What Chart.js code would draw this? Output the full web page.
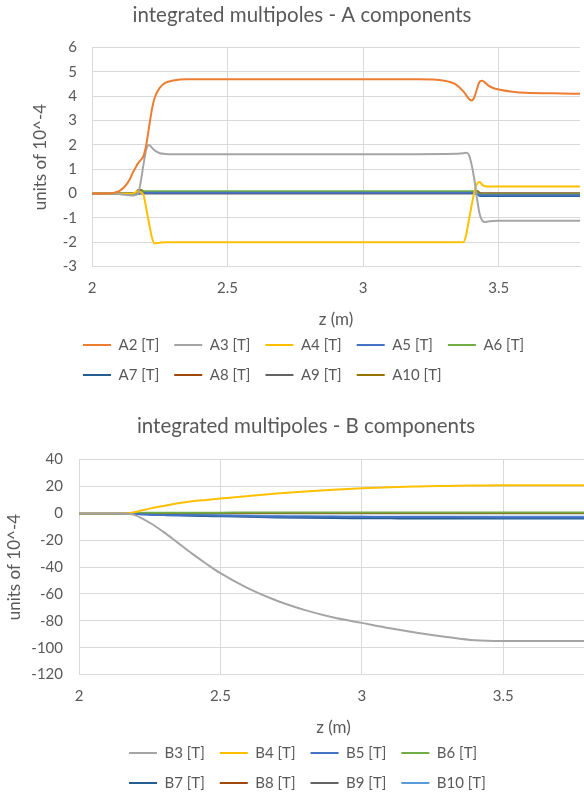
<!DOCTYPE html>
<html>
<head>
<meta charset="utf-8">
<script src="https://cdn.jsdelivr.net/npm/chart.js@4.4.1/dist/chart.umd.min.js"></script>
<style>
  html, body { margin: 0; padding: 0; background: #fff; overflow: hidden; width: 584px; height: 798px; }
  canvas { position: absolute; left: 0; }
  #chartA { top: 0; }
  #chartB { top: 395px; }
</style>
</head>
<body>
<canvas id="chartA" width="584" height="400"></canvas>
<canvas id="chartB" width="588" height="413"></canvas>
<script>
// z positions (m) for the A components
var zA = [2.0, 2.05, 2.08, 2.1, 2.12, 2.14, 2.15, 2.16, 2.17, 2.18,
          2.19, 2.2, 2.21, 2.22, 2.23, 2.25, 2.27, 2.3, 2.35, 2.4,
          2.6, 2.8, 3.0, 3.2, 3.3, 3.34, 3.37, 3.38, 3.39, 3.4,
          3.41, 3.42, 3.43, 3.44, 3.45, 3.46, 3.48, 3.5, 3.55, 3.6,
          3.7, 3.8];

var a2 = [0, 0, 0.03, 0.1, 0.28, 0.6, 0.85, 1.05, 1.25, 1.38,
          1.55, 2.0, 2.7, 3.4, 3.9, 4.35, 4.55, 4.65, 4.7, 4.7,
          4.7, 4.7, 4.7, 4.7, 4.64, 4.5, 4.2, 4.05, 3.9, 3.83,
          3.95, 4.3, 4.6, 4.64, 4.56, 4.46, 4.34, 4.28, 4.19, 4.14,
          4.12, 4.1];
var a3 = [0, 0, 0, -0.02, -0.05, -0.07, -0.08, -0.06, 0, 0.5,
          1.2, 1.8, 2.0, 1.9, 1.78, 1.66, 1.63, 1.62, 1.62, 1.62,
          1.62, 1.62, 1.62, 1.62, 1.63, 1.64, 1.66, 1.68, 1.6, 1.2,
          0.6, -0.2, -0.85, -1.12, -1.17, -1.15, -1.13, -1.12, -1.12, -1.12,
          -1.12, -1.12];
var a4 = [0, 0, 0, 0, 0, 0, 0, 0.05, 0.1, 0.05,
          -0.05, -0.6, -1.2, -1.75, -2.05, -2.02, -2.0, -2.0, -2.0, -2.0,
          -2.0, -2.0, -2.0, -2.0, -2.0, -2.0, -2.0, -1.7, -1.1, -0.5,
          0.05, 0.4, 0.48, 0.35, 0.3, 0.29, 0.29, 0.29, 0.29, 0.29,
          0.29, 0.29];
var a5 = [0, 0, 0, 0, 0, 0, 0, 0, 0, 0.03,
          0.03, 0.03, 0.03, 0.03, 0.03, 0.03, 0.03, 0.03, 0.03, 0.03,
          0.03, 0.03, 0.03, 0.03, 0.03, 0.03, 0.03, 0.03, 0.03, 0.03,
          0.03, 0, -0.07, -0.07, -0.07, -0.07, -0.07, -0.07, -0.07, -0.07,
          -0.07, -0.07];
var a6 = [0, 0, 0, 0, 0, 0, 0, 0, 0, 0.05,
          0.1, 0.1, 0.1, 0.1, 0.1, 0.1, 0.1, 0.1, 0.1, 0.1,
          0.1, 0.1, 0.1, 0.1, 0.1, 0.1, 0.1, 0.1, 0.1, 0.1,
          0.1, 0.05, -0.03, -0.03, -0.03, -0.03, -0.03, -0.03, -0.03, -0.03,
          -0.03, -0.03];
var a7 = [0, 0, 0, 0, 0, 0, 0, 0, 0, 0.05,
          0.05, 0.05, 0.05, 0.05, 0.05, 0.05, 0.05, 0.05, 0.05, 0.05,
          0.05, 0.05, 0.05, 0.05, 0.05, 0.05, 0.05, 0.05, 0.05, 0.05,
          0.05, 0, -0.1, -0.1, -0.1, -0.1, -0.1, -0.1, -0.1, -0.1,
          -0.1, -0.1];
var a8 = [0, 0, 0, 0, 0, 0, 0, 0, 0, 0.02,
          0.02, 0.02, 0.02, 0.02, 0.02, 0.02, 0.02, 0.02, 0.02, 0.02,
          0.02, 0.02, 0.02, 0.02, 0.02, 0.02, 0.02, 0.02, 0.02, 0.02,
          0.02, 0, 0, 0, 0, 0, 0, 0, 0, 0,
          0, 0];
var a9 = [0, 0, 0, 0, 0, 0, 0, 0, 0, 0,
          0, 0, 0, 0, 0, 0, 0, 0, 0, 0,
          0, 0, 0, 0, 0, 0, 0, 0, 0, 0,
          0, 0, 0, 0, 0, 0, 0, 0, 0, 0,
          0, 0];
var a10 = [0, 0, 0, 0, 0, 0, 0, 0, 0.15, 0.15,
           0.1, 0.07, 0.07, 0.07, 0.07, 0.07, 0.07, 0.07, 0.07, 0.07,
           0.07, 0.07, 0.07, 0.07, 0.07, 0.07, 0.07, 0.07, 0.07, 0.07,
           0.07, 0.12, 0.02, -0.04, -0.04, -0.04, -0.04, -0.04, -0.04, -0.04,
           -0.04, -0.04];

var namesA = ['A2 [T]', 'A3 [T]', 'A4 [T]', 'A5 [T]', 'A6 [T]', 'A7 [T]', 'A8 [T]', 'A9 [T]', 'A10 [T]'];
var colorsA = ['#ED7D31', '#A5A5A5', '#FFC000', '#4472C4', '#70AD47', '#255E91', '#9E480E', '#636363', '#997300'];

// z positions (m) for the B components
var zB = [2.0, 2.1, 2.15, 2.18, 2.2, 2.25, 2.3, 2.35, 2.4, 2.45,
          2.5, 2.6, 2.7, 2.8, 2.9, 3.0, 3.1, 3.2, 3.3, 3.4,
          3.5, 3.6, 3.7, 3.8];

var b3 = [0, 0, 0, -0.5, -1.5, -7, -14, -22, -30, -37.5,
          -44.5, -56, -65, -72, -77.5, -81.5, -85.5, -89, -92, -94.5,
          -95, -95, -95, -95];
var b4 = [0, 0, 0, 0.2, 1, 3.5, 5.5, 7.5, 9, 10,
          11, 13, 14.8, 16.3, 17.6, 18.7, 19.5, 20, 20.4, 20.8,
          21, 21, 21, 21];
var b5 = [0, 0, 0, 0, -0.5, -1, -1.3, -1.5, -1.5, -1.5,
          -1.8, -2.2, -2.5, -2.5, -2.6, -2.7, -2.7, -2.8, -2.8, -2.9,
          -3, -3, -3, -3];
var b6 = [0, 0, 0, 0, 0.2, 0.4, 0.5, 0.5, 0.5, 0.5,
          0.5, 0.6, 0.6, 0.6, 0.6, 0.6, 0.6, 0.6, 0.6, 0.6,
          0.6, 0.6, 0.6, 0.6];
var b7 = [0, 0, 0, 0, -0.3, -0.8, -1.2, -1.5, -1.8, -2,
          -2.2, -2.6, -3, -3.3, -3.5, -3.6, -3.7, -3.8, -3.8, -3.9,
          -3.9, -3.9, -3.9, -3.9];
var b8 = [0, 0, 0, 0, 0, 0.1, 0.1, 0.2, 0.2, 0.2,
          0.2, 0.2, 0.3, 0.3, 0.3, 0.3, 0.3, 0.3, 0.3, 0.3,
          0.3, 0.3, 0.3, 0.3];
var b9 = [0, 0, 0, 0, 0, 0, 0, 0, 0, 0,
          0, 0, 0, 0, 0, 0, 0, 0, 0, 0,
          0, 0, 0, 0];
var b10 = [0, 0, 0, 0, -0.2, -0.5, -0.8, -1, -1.2, -1.4,
           -1.5, -1.8, -2, -2.2, -2.3, -2.4, -2.5, -2.5, -2.6, -2.6,
           -2.6, -2.6, -2.6, -2.6];

var namesB = ['B3 [T]', 'B4 [T]', 'B5 [T]', 'B6 [T]', 'B7 [T]', 'B8 [T]', 'B9 [T]', 'B10 [T]'];
var colorsB = ['#A5A5A5', '#FFC000', '#4472C4', '#70AD47', '#255E91', '#9E480E', '#636363', '#5B9BD5'];

Chart.defaults.font.family = 'Lato';
Chart.defaults.color = '#595959';
var gridColor = '#D9D9D9';

// moves the legend so its rows start at a fixed x, like the Excel legend grid,
// and nudges the title a little to the right
var legendPlace = {
  id: 'legendPlace',
  afterLayout: function (chart, args, opts) {
    chart.legend.left = opts.left;
    chart.legend.right = opts.right;
    chart.legend.top = opts.top;
    chart.titleBlock.left += opts.titleShift;
    chart.titleBlock.right += opts.titleShift;
  }
};

function series(names, colors, z, values) {
  return names.map(function (name, k) {
    return {
      label: name,
      data: z.map(function (zz, i) { return { x: zz, y: values[k][i] }; }),
      borderColor: colors[k],
      backgroundColor: colors[k],
      borderWidth: 2,
      pointRadius: 0,
      fill: false,
      cubicInterpolationMode: 'monotone'
    };
  });
}

function makeChart(id, datasets, cfg) {
  return new Chart(document.getElementById(id), {
    type: 'line',
    data: { datasets: datasets },
    plugins: [legendPlace],
    options: {
      responsive: false,
      animation: false,
      layout: { padding: { right: cfg.padRight } },
      plugins: {
        title: {
          display: true,
          text: cfg.title,
          color: '#595959',
          font: { size: 20.5, weight: 'normal' },
          padding: cfg.titlePad
        },
        legend: {
          position: 'bottom',
          align: 'start',
          labels: {
            usePointStyle: true,
            pointStyle: 'line',
            pointStyleWidth: 28,
            padding: 15,
            color: '#595959',
            font: { size: 15 }
          }
        },
        tooltip: { enabled: false },
        legendPlace: cfg.legend
      },
      scales: {
        x: {
          type: 'linear',
          min: 2,
          max: 3.8,
          ticks: {
            stepSize: 0.5,
            includeBounds: false,
            padding: 14,
            font: { size: 15, lineHeight: 1 },
            callback: function (value) { return value; }
          },
          grid: { color: gridColor, drawTicks: false },
          border: { color: gridColor },
          title: { display: true, text: 'z (m)', font: { size: 17 }, padding: 0 }
        },
        y: {
          min: cfg.yMin,
          max: cfg.yMax,
          ticks: { stepSize: cfg.yStep, padding: cfg.yTickPad, font: { size: 15 } },
          grid: { color: gridColor, drawTicks: false },
          border: { color: gridColor },
          title: { display: true, text: 'units of 10^-4', font: { size: 17 }, padding: { top: cfg.yTitlePad, bottom: 0 } },
          afterFit: function (scale) { scale.width = cfg.yWidth; }
        }
      }
    }
  });
}

var chartA = makeChart('chartA', series(namesA, colorsA, zA, [a2, a3, a4, a5, a6, a7, a8, a9, a10]), {
  title: 'integrated multipoles - A components',
  titlePad: { top: 3, bottom: 20 },
  padRight: 4,
  yMin: -3, yMax: 6, yStep: 1,
  yTickPad: 15, yTitlePad: 30, yWidth: 92,
  legend: { left: 68, right: 584, top: 322.5, titleShift: 12 }
});

var chartB = makeChart('chartB', series(namesB, colorsB, zB, [b3, b4, b5, b6, b7, b8, b9, b10]), {
  title: 'integrated multipoles - B components',
  titlePad: { top: 19, bottom: 21 },
  padRight: 0,
  yMin: -120, yMax: 40, yStep: 20,
  yTickPad: 16, yTitlePad: 4, yWidth: 79,
  legend: { left: 114, right: 560, top: 335.5, titleShift: 12 }
});
</script>
</body>
</html>
